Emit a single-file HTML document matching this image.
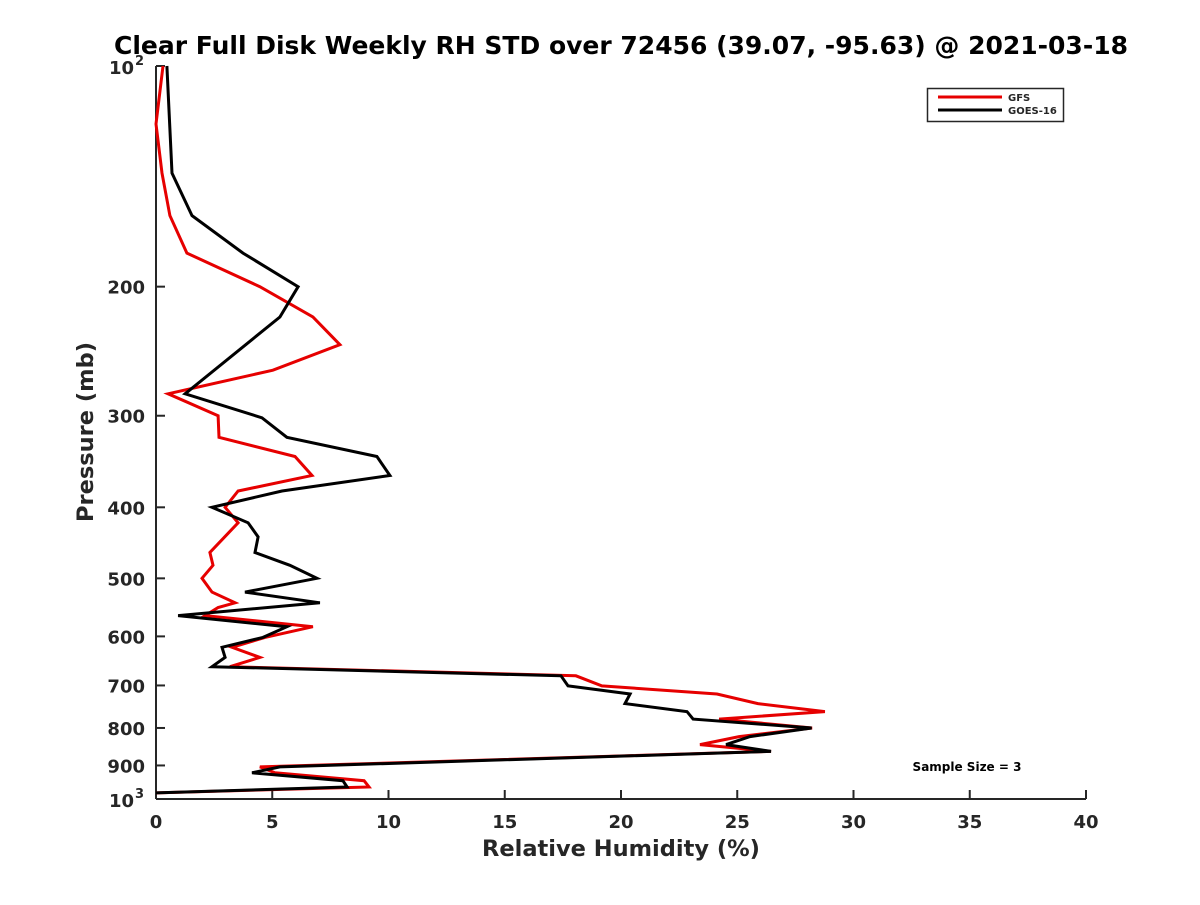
<!DOCTYPE html>
<html><head><meta charset="utf-8"><style>
body{margin:0;background:#fff;}
svg text{font-family:"DejaVu Sans","Liberation Sans",sans-serif;font-weight:bold;fill:#262626;}
</style></head><body>
<svg id="c" width="1200" height="900" xmlns="http://www.w3.org/2000/svg">
<text x="621" y="54" font-size="25" text-anchor="middle" style="fill:#000">Clear Full Disk Weekly RH STD over 72456 (39.07, -95.63) @ 2021-03-18</text>
<g id="axes"></g>
<g id="series"></g>
<g>
<rect x="927.5" y="88.5" width="136" height="33" fill="#fff" stroke="#262626" stroke-width="1.5"/>
<line x1="938" y1="97" x2="1002" y2="97" stroke="#e60000" stroke-width="3"/>
<text x="1008" y="101" font-size="10">GFS</text>
<line x1="938" y1="110" x2="1002" y2="110" stroke="#000" stroke-width="3"/>
<text x="1008" y="114" font-size="10">GOES-16</text>
</g>
<text x="967" y="771" font-size="12" text-anchor="middle" style="fill:#000">Sample Size = 3</text>
<text x="621" y="856" font-size="22.5" text-anchor="middle">Relative Humidity (%)</text>
<text x="93" y="432" font-size="22.5" text-anchor="middle" transform="rotate(-90 93 432)">Pressure (mb)</text>
</svg>
<script>
const xTicks=[0,5,10,15,20,25,30,35,40];
const yTicks=[100,200,300,400,500,600,700,800,900,1000];
const yTickLabels=["10^2","200","300","400","500","600","700","800","900","10^3"];
const goesP=[100,140,160,180,200,220,280,302,321,341,362,380,400,420,439,461,480,500,522,540,562,582,602,621,641,660,679,701,719,741,760,778,800,822,843,861,904,921,944,963,981];
const goesRH=[0.47,0.69,1.55,3.74,6.11,5.33,1.25,4.56,5.63,9.5,10.06,5.42,2.41,3.96,4.39,4.26,5.76,6.92,3.83,7.05,0.95,5.63,4.6,2.84,2.97,2.41,17.42,17.72,20.39,20.17,22.84,23.1,28.2,25.55,24.52,26.45,5.33,4.13,8.04,8.22,0];
const gfsP=[100,120,140,160,180,200,220,240,260,280,300,321,341,362,380,400,420,461,480,500,522,540,548,562,582,602,621,641,660,679,701,719,741,760,778,800,822,843,861,904,921,944,963,981];
const gfsRH=[0.3,0,0.26,0.6,1.33,4.47,6.75,7.91,5.03,0.52,2.67,2.71,5.98,6.71,3.53,2.97,3.53,2.32,2.45,1.98,2.41,3.4,2.67,2.11,6.75,4.69,3.27,4.47,3.18,18.06,19.18,24.13,25.89,28.77,24.22,28.22,25.08,23.4,26.45,4.47,5.12,8.95,9.16,0];
const L=156,R=1086,T=66,B=799;
const X=v=>L+(R-L)*v/40;
const Y=p=>T+(B-T)*Math.log10(p/100);
const NS="http://www.w3.org/2000/svg";
const ax=document.getElementById('axes'), sg=document.getElementById('series');
function mk(tag,attrs,parent){const e=document.createElementNS(NS,tag);for(const k in attrs)e.setAttribute(k,attrs[k]);parent.appendChild(e);return e;}
const yl=mk('line',{x1:L,y1:T,x2:L,y2:B,stroke:'#262626','stroke-width':2},ax);


const xl=mk('line',{x1:L,y1:B,x2:R,y2:B,stroke:'#262626','stroke-width':2},ax);


xTicks.forEach(v=>{
 const t=mk('line',{x1:X(v),y1:B,x2:X(v),y2:B-9,stroke:'#262626','stroke-width':2},ax);
 
 
 const tx=mk('text',{x:X(v),y:B+29,'font-size':18,'text-anchor':'middle'},ax);
 tx.textContent=v;
 
 
});
yTicks.forEach((p,i)=>{
 const t=mk('line',{x1:L,y1:Y(p),x2:L+9,y2:Y(p),stroke:'#262626','stroke-width':2},ax);
 
 
 const lab=yTickLabels[i];
 if(lab.indexOf('^')>=0){
  const parts=lab.split('^');
  const tx=mk('text',{x:L-22,y:Y(p)+8,'font-size':18,'text-anchor':'end'},ax);
  tx.textContent=parts[0];
  
  
  const sx=mk('text',{x:L-21,y:Y(p)-1,'font-size':13,'text-anchor':'start'},ax);
  sx.textContent=parts[1];
  
  
 } else {
  const tx=mk('text',{x:L-11,y:Y(p)+7,'font-size':18,'text-anchor':'end'},ax);
  tx.textContent=lab;
  
  
 }
});
function line(P,V,color,name){
 const d=P.map((p,i)=>(i?'L':'M')+X(V[i]).toFixed(1)+' '+Y(p).toFixed(1)).join(' ');
 const e=mk('path',{d:d,fill:'none',stroke:color,'stroke-width':3,'stroke-linejoin':'miter'},sg);
 
 
}
line(gfsP,gfsRH,'#e60000','gfs-line');
line(goesP,goesRH,'#000','goes16-line');
</script>
</body></html>
